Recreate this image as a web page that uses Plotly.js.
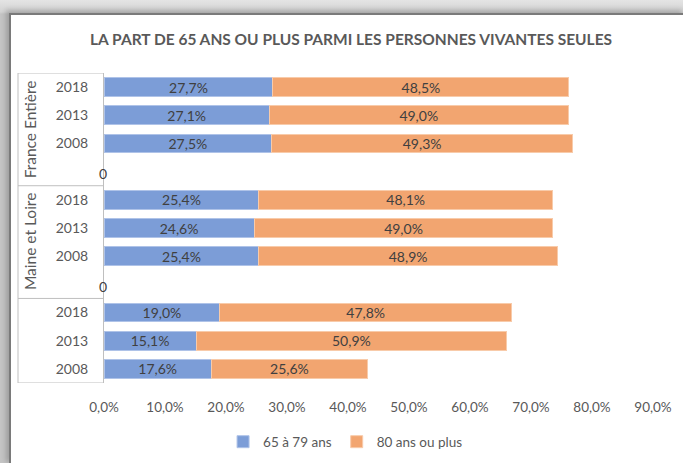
<!DOCTYPE html>
<html>
<head>
<meta charset="utf-8">
<script src="https://cdn.plot.ly/plotly-3.0.1.min.js"></script>
<style>
  html, body { margin: 0; padding: 0; }
  body { width: 683px; height: 463px; position: relative; overflow: hidden;
         background: linear-gradient(to bottom, #e4e4e4 0px, #d2d2d2 12px, #c4c4c4 14px); }
  #frame { position: absolute; left: 9px; top: 13px; width: 674px; height: 450px;
           background: #ffffff; border-left: 2px solid #7a7a7a; border-top: 2px solid #7a7a7a;
           box-shadow: -3px -3px 5px rgba(0,0,0,0.2); }
  #chart { position: absolute; left: 0; top: 0; width: 683px; height: 463px; }
</style>
</head>
<body>
<div id="frame"></div>
<div id="chart"></div>
<script>
// ---- data ----
const groups = ["France Entière", "Maine et Loire", ""];
const years = ["2018", "2013", "2008"];
const seriesNames = ["65 à 79 ans", "80 ans ou plus"];
const young = [
  [27.7, 27.1, 27.5],
  [25.4, 24.6, 25.4],
  [19.0, 15.1, 17.6]
];
const old = [
  [48.5, 49.0, 49.3],
  [48.1, 49.0, 48.9],
  [47.8, 50.9, 25.6]
];
const xTickVals = [0, 10, 20, 30, 40, 50, 60, 70, 80, 90];
const xTickText = ["0,0%", "10,0%", "20,0%", "30,0%", "40,0%", "50,0%", "60,0%", "70,0%", "80,0%", "90,0%"];
const spacerLabel = "0";

// ---- build category list ----
const cats = [], tickText = [], yVals = [], xYoung = [], xOld = [], spacers = [];
const groupSpans = [];
groups.forEach((g, gi) => {
  const start = cats.length;
  years.forEach((yr, yi) => {
    const key = "g" + gi + "-" + yr;
    cats.push(key); tickText.push(yr);
    yVals.push(key); xYoung.push(young[gi][yi]); xOld.push(old[gi][yi]);
  });
  if (gi < groups.length - 1) {
    const key = "sep" + gi;
    cats.push(key); tickText.push("");
    spacers.push(key);
  }
  groupSpans.push([start - 0.5, cats.length - 0.5]);
});

const txtColor = "#595959";
const fontFam = "Lato, 'Open Sans', sans-serif";

const traces = [
  { type: "bar", orientation: "h", name: seriesNames[0], y: yVals, x: xYoung,
    marker: { color: "#7C9DD7", line: { color: "#AFC3E8", width: 1 } },
    texttemplate: "%{x:.1f}%", textposition: "inside", insidetextanchor: "middle",
    textfont: { family: fontFam, size: 14, color: "#404040" }, hoverinfo: "skip" },
  { type: "bar", orientation: "h", name: seriesNames[1], y: yVals, x: xOld,
    marker: { color: "#F2A570", line: { color: "#F8CBAA", width: 1 } },
    texttemplate: "%{x:.1f}%", textposition: "inside", insidetextanchor: "middle",
    textfont: { family: fontFam, size: 14, color: "#404040" }, hoverinfo: "skip" }
];

// group label geometry
const L = 104, W = 549;
const leftX = (18 - L) / W;
const labelX = (30 - L) / W;

const shapes = [];
const lineStyle = { color: "#BFBFBF", width: 1 };
const bounds = [-0.5].concat(groupSpans.map(s => s[1]));
bounds.forEach(b => {
  shapes.push({ type: "line", xref: "paper", yref: "y", x0: leftX, x1: 0, y0: b, y1: b, line: lineStyle });
});
shapes.push({ type: "line", xref: "paper", yref: "paper", x0: leftX, x1: leftX, y0: 0, y1: 1, line: lineStyle });

const annotations = [];
groups.forEach((g, gi) => {
  if (!g) return;
  const mid = (groupSpans[gi][0] + groupSpans[gi][1]) / 2;
  annotations.push({ xref: "paper", yref: "y", x: labelX, y: mid,
    text: g, textangle: -90, showarrow: false, xanchor: "center", yanchor: "middle",
    font: { family: fontFam, size: 15.5, color: txtColor } });
});
spacers.forEach(k => {
  annotations.push({ xref: "paper", yref: "y", x: 0, y: k, text: spacerLabel, showarrow: false,
    xanchor: "center", yanchor: "middle", xshift: -1, yshift: -2,
    font: { family: fontFam, size: 14, color: "#404040" } });
});

const layout = {
  width: 683, height: 463,
  margin: { l: 104, r: 30, t: 73, b: 80, autoexpand: false },
  paper_bgcolor: "rgba(0,0,0,0)", plot_bgcolor: "rgba(0,0,0,0)",
  separators: ", ",
  barmode: "stack", bargap: 0.33,
  uniformtext: { mode: "show", minsize: 14 },
  font: { family: fontFam, color: txtColor },
  title: { text: "LA PART DE 65 ANS OU PLUS PARMI LES PERSONNES VIVANTES SEULES",
    x: 0.514, xanchor: "center", xref: "container", y: 1 - 40 / 463, yanchor: "middle",
    font: { family: fontFam, size: 15.5, color: txtColor, weight: "bold" } },
  xaxis: { range: [0, 90], tickmode: "array", tickvals: xTickVals, ticktext: xTickText,
    showgrid: false, zeroline: false, showline: false, ticks: "", ticklabelstandoff: 14,
    tickfont: { family: fontFam, size: 13.5, color: txtColor } },
  yaxis: { type: "category", categoryorder: "array", categoryarray: cats,
    range: [cats.length - 0.5, -0.5], autorange: false,
    tickmode: "array", tickvals: cats, ticktext: tickText,
    showgrid: false, zeroline: false, showline: true, linecolor: "#BFBFBF", linewidth: 1,
    ticks: "", ticklabelstandoff: 12,
    tickfont: { family: fontFam, size: 14, color: txtColor } },
  legend: { orientation: "h", x: 0.44, xanchor: "center", y: -0.19, yanchor: "middle",
    itemwidth: 30,
    font: { family: fontFam, size: 13.5, color: txtColor }, traceorder: "normal" },
  shapes: shapes, annotations: annotations
};

Plotly.newPlot("chart", traces, layout, { staticPlot: true, displayModeBar: false });
</script>
</body>
</html>
